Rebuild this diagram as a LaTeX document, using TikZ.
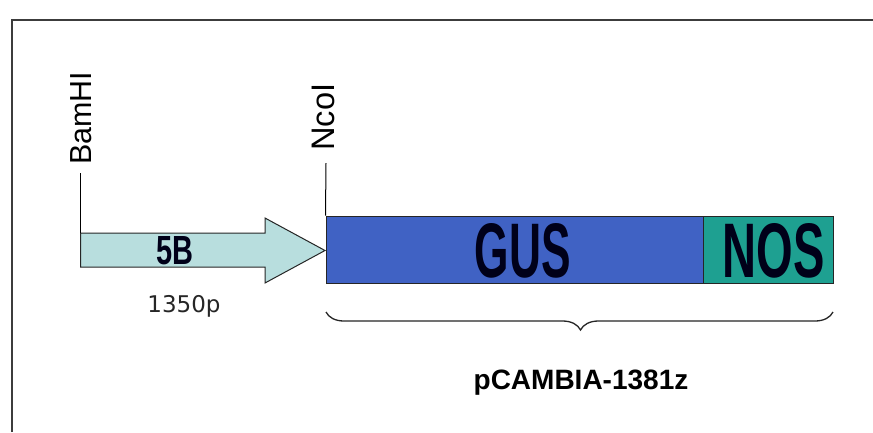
\documentclass[tikz,border=0pt]{standalone}
\usepackage{fontspec}
\setmainfont{Liberation Sans}
\newfontfamily\dejavu{DejaVu Sans}
\usetikzlibrary{decorations.pathreplacing}
\definecolor{arrowfill}{RGB}{184,222,222}
\definecolor{gusfill}{RGB}{64,98,196}
\definecolor{nosfill}{RGB}{30,160,145}
\definecolor{framecol}{RGB}{60,60,60}
\tikzset{
  segbox/.style={draw=black!85, line width=1pt, inner sep=0pt},
  sitelabel/.style={rotate=90, anchor=west, inner sep=0pt, font=\fontsize{28}{28}\selectfont},
  siteline/.style={draw=black, line width=1pt},
  bigtext/.style={inner sep=0pt, text=black!90!blue},
}
\begin{document}
\begin{tikzpicture}[x=1pt,y=-1pt]
\useasboundingbox (0,0) rectangle (873,432);
\fill[white] (0,0) rectangle (873,432);
% frame
\draw[framecol, line width=1.6pt] (12,432) -- (12,20) -- (873,20);
% arrow 5B
\coordinate (atail) at (80.5,250);
\coordinate (atip) at (325,250.5);
\filldraw[fill=arrowfill, draw=black!85, line width=1pt]
  (80.5,233) -- (265,233) -- (265,218) -- (atip) -- (265,283) -- (265,267) -- (80.5,267) -- cycle;
\node[bigtext] (fiveb) at (175,251) {\resizebox{37pt}{28pt}{\textbf{5B}}};
\node[inner sep=0pt, text=black!85, font=\dejavu\fontsize{23}{23}\selectfont] (size) at (184,306.5) {1350p};
% GUS and NOS
\node[segbox, fill=gusfill, minimum width=377pt, minimum height=67pt] (gus) at (514.5,249.5) {};
\node[segbox, fill=nosfill, minimum width=130pt, minimum height=67pt] (nos) at (768,249.5) {};
\node[bigtext] (gustext) at (523,251) {\resizebox{96pt}{54pt}{\textbf{GUS}}};
\node[bigtext] (nostext) at (774,251) {\resizebox{102pt}{54pt}{\textbf{NOS}}};
% restriction sites
\node[sitelabel] (bamhi) at (81.5,165) {\resizebox{93pt}{!}{BamHI}};
\node[sitelabel] (ncoi) at (323,151) {\resizebox{67pt}{!}{NcoI}};
\draw[siteline] (80.5,173) -- (80.5,233);
\draw[siteline] (326,163) -- (gus.north west);
% brace
\coordinate (bl) at (326,312);
\coordinate (br) at (833,312);
\draw[black!85, line width=1.3pt, decorate, decoration={brace, mirror, amplitude=18pt, aspect=0.502}] (bl) -- (br);
\node[inner sep=0pt, font=\bfseries\fontsize{28}{28}\selectfont] (vec) at (581,383) {pCAMBIA-1381z};
\end{tikzpicture}
\end{document}
